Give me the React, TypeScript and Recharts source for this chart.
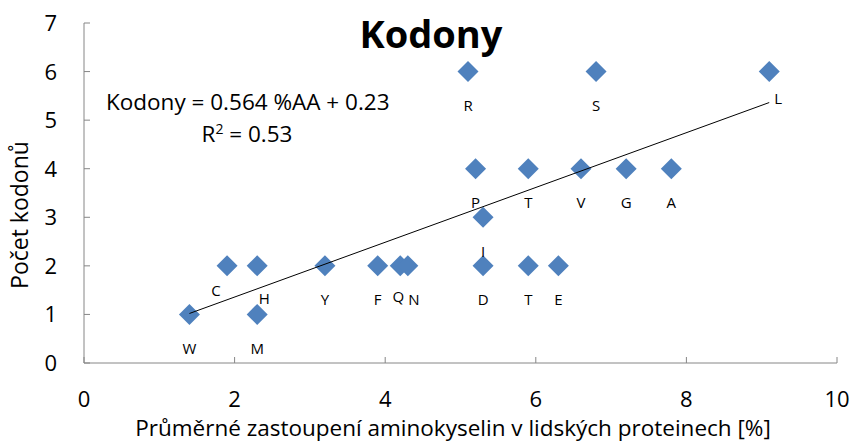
import React from 'react';
import { ScatterChart, Scatter, XAxis, YAxis } from 'recharts';

const aminoLabels = ['W', 'C', 'H', 'M', 'Y', 'F', 'Q', 'N', 'D', 'I', 'P', 'T', 'T', 'E', 'V', 'G', 'A', 'R', 'S', 'L'];
const aminoPercent = [1.4, 1.9, 2.3, 2.3, 3.2, 3.9, 4.2, 4.3, 5.3, 5.3, 5.2, 5.9, 5.9, 6.3, 6.6, 7.2, 7.8, 5.1, 6.8, 9.1];
const codonCount = [1, 2, 2, 1, 2, 2, 2, 2, 2, 3, 4, 4, 2, 2, 4, 4, 4, 6, 6, 6];
const xTicks = [0, 2, 4, 6, 8, 10];
const yTicks = [0, 1, 2, 3, 4, 5, 6, 7];
const trendSlope = 0.564;
const trendIntercept = 0.23;
const trendX = [1.4, 9.1];

const points = aminoLabels.map((label, i) => ({ label, x: aminoPercent[i], y: codonCount[i], idx: i }));
const trend = trendX.map((x) => ({ x, y: trendSlope * x + trendIntercept }));

const labelOffsets: Record<number, [number, number]> = {
  1: [-11, 25],
  2: [7, 33],
  6: [-2, 31],
  7: [6, 34],
  19: [9, 27],
};

const FONT = '"Open Sans", sans-serif';
const AXIS = '#868686';
const BLUE = '#4F81BD';

const Diamond = (props: any) => {
  const { cx, cy } = props;
  if (cx == null || cy == null) return <g />;
  const r = 10.5;
  return <polygon points={`${cx},${cy - r} ${cx + r},${cy} ${cx},${cy + r} ${cx - r},${cy}`} fill={BLUE} />;
};

const PointLabel = (props: any) => {
  const { cx, cy, payload } = props;
  if (cx == null || cy == null) return <g />;
  const off = labelOffsets[payload.idx] || [0, 34];
  return (
    <text x={cx + off[0]} y={cy + off[1] + 5.5} textAnchor="middle" fontSize={15} fontFamily={FONT} fill="#000">
      {payload.label}
    </text>
  );
};

const Nothing = () => <g />;

const XTick = (props: any) => {
  const { x, y, payload } = props;
  return (
    <g>
      <line x1={x} y1={y} x2={x} y2={y - 6} stroke={AXIS} />
      <text x={x} y={y + 44} textAnchor="middle" fontSize={22} fontFamily={FONT} fill="#000">
        {payload.value}
      </text>
    </g>
  );
};

const YTick = (props: any) => {
  const { x, y, payload } = props;
  return (
    <g>
      <line x1={x} y1={y} x2={x + 6} y2={y} stroke={AXIS} />
      <text x={x - 27} y={y + 8} textAnchor="end" fontSize={22} fontFamily={FONT} fill="#000">
        {payload.value}
      </text>
    </g>
  );
};

export default function App() {
  return (
    <div style={{ position: 'absolute', left: 0, top: 0, width: 854, height: 444, background: '#fff' }}>
      <ScatterChart width={854} height={444} margin={{ top: 23, right: 17, bottom: 0, left: 0 }}>
        <XAxis
          type="number"
          dataKey="x"
          domain={[0, 10]}
          ticks={xTicks}
          interval={0}
          tickSize={0}
          tickMargin={0}
          tickLine={false}
          axisLine={{ stroke: AXIS }}
          tick={<XTick />}
          height={81}
        />
        <YAxis
          type="number"
          dataKey="y"
          domain={[0, 7]}
          ticks={yTicks}
          interval={0}
          tickSize={0}
          tickMargin={0}
          tickLine={false}
          axisLine={{ stroke: AXIS }}
          tick={<YTick />}
          width={84}
        />
        <Scatter data={points} shape={<Diamond />} isAnimationActive={false} />
        <Scatter data={trend} line={{ stroke: '#000', strokeWidth: 1 }} shape={<Nothing />} isAnimationActive={false} />
        <Scatter data={points} shape={<PointLabel />} isAnimationActive={false} />
      </ScatterChart>
      <svg width={854} height={444} style={{ position: 'absolute', left: 0, top: 0, pointerEvents: 'none' }}>
        <text x={431} y={48} textAnchor="middle" fontSize={38} fontWeight="bold" fontFamily={FONT} fill="#000">
          Kodony
        </text>
        <text x={106} y={110} fontSize={22.5} fontFamily={FONT} fill="#000">
          Kodony = 0.564 %AA + 0.23
        </text>
        <text x={247} y={142} textAnchor="middle" fontSize={22.5} fontFamily={FONT} fill="#000">
          R<tspan fontSize={14} dy={-8}>2</tspan>
          <tspan dy={8}> = 0.53</tspan>
        </text>
        <text x={453} y={436} textAnchor="middle" fontSize={22.5} fontFamily={FONT} fill="#000">
          Průměrné zastoupení aminokyselin v lidských proteinech [%]
        </text>
        <text x={28} y={215} textAnchor="middle" fontSize={23} fontFamily={FONT} fill="#000" transform="rotate(-90 28 215)">
          Počet kodonů
        </text>
      </svg>
    </div>
  );
}
